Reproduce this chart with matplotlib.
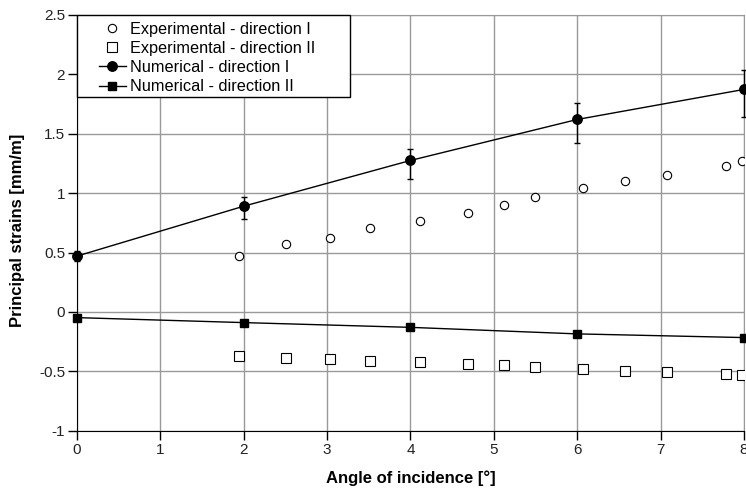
import matplotlib
matplotlib.use("Agg")
import matplotlib.pyplot as plt
from matplotlib.lines import Line2D
from matplotlib.patches import Rectangle

# numerical results (with error bars)
num_x = [0, 2, 4, 6, 8]
num1_y = [0.47, 0.89, 1.275, 1.62, 1.873]
num1_err_low = [0.04, 0.11, 0.16, 0.20, 0.23]
num1_err_high = [0.04, 0.08, 0.10, 0.14, 0.16]
num2_y = [-0.048, -0.09, -0.13, -0.185, -0.216]

# experimental results
exp_x = [1.94, 2.51, 3.03, 3.52, 4.11, 4.69, 5.12, 5.50, 6.07, 6.57, 7.08, 7.79, 7.98]
exp1_y = [0.47, 0.569, 0.625, 0.703, 0.768, 0.835, 0.896, 0.965, 1.04, 1.10, 1.155, 1.225, 1.27]
exp2_y = [-0.37, -0.387, -0.398, -0.412, -0.42, -0.437, -0.445, -0.462, -0.482, -0.496, -0.507, -0.521, -0.53]

labels = ['Experimental - direction I', 'Experimental - direction II',
          'Numerical - direction I', 'Numerical - direction II']

plt.rcParams['font.family'] = ['Liberation Sans', 'DejaVu Sans']

fig = plt.figure(figsize=(7.46, 4.92), dpi=100)
ax = fig.add_axes([0.1032, 0.1246, 0.894, 0.845])

ax.plot(exp_x, exp1_y, 'o', mfc='white', mec='black', ms=6, mew=0.8, zorder=3)
ax.plot(exp_x, exp2_y, 's', mfc='white', mec='black', ms=6.5, mew=0.8, zorder=3)
ax.errorbar(num_x, num1_y, yerr=[num1_err_low, num1_err_high], fmt='-o',
            color='black', lw=1, ms=6.8, capsize=2.5, elinewidth=1,
            zorder=4, clip_on=False)
ax.plot(num_x, num2_y, '-s', color='black', lw=1, ms=5.8, zorder=4, clip_on=False)

ax.set_xlim(0, 8)
ax.set_ylim(-1, 2.5)
ax.set_xticks(range(0, 9))
ax.set_yticks([-1, -0.5, 0, 0.5, 1, 1.5, 2, 2.5])
ax.set_yticklabels(['-1', '-0.5', '0', '0.5', '1', '1.5', '2', '2.5'])
ax.grid(True, color='#999999', lw=1)
ax.set_axisbelow(True)
ax.tick_params(labelsize=11, length=6.5, width=1, color='black', pad=2,
               labelcolor='#222222')

for s in ['top', 'right']:
    ax.spines[s].set_color('#999999')
for s in ['left', 'bottom']:
    ax.spines[s].set_color('black')

ax.set_xlabel('Angle of incidence [°]', fontsize=12, fontweight='bold', labelpad=10)
ax.set_ylabel('Principal strains [mm/m]', fontsize=12, fontweight='bold')
ax.yaxis.set_label_coords(-0.078, 0.483)

# legend frame (wider than its content, like the original)
ax.add_patch(Rectangle((0, 0.803), 0.409, 0.197, transform=ax.transAxes,
                       facecolor='white', edgecolor='black', lw=1, zorder=5,
                       clip_on=False))
handles = [
    Line2D([], [], ls='none', marker='o', mfc='white', mec='black', ms=6, mew=0.8),
    Line2D([], [], ls='none', marker='s', mfc='white', mec='black', ms=6.5, mew=0.8),
    Line2D([], [], color='black', lw=1, marker='o', ms=6.8),
    Line2D([], [], color='black', lw=1, marker='s', ms=5.8),
]
leg = ax.legend(handles, labels, loc='upper left', bbox_to_anchor=(0.033, 0.984),
                fontsize=11.7, frameon=False, borderpad=0, labelspacing=0.26,
                handlelength=1.66, handletextpad=0.25, borderaxespad=0)
leg.set_zorder(6)

fig.savefig('out.png', dpi=100)
